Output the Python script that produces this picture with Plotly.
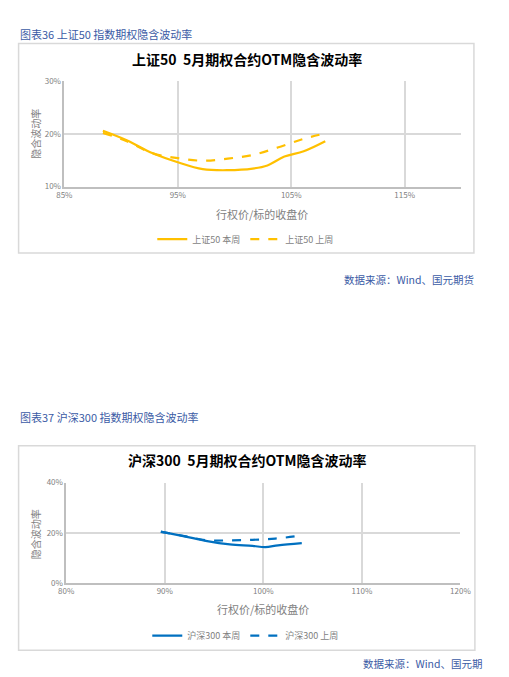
import plotly.graph_objects as go

W, H = 509, 677

# 上证50 5月期权 OTM 隐含波动率 (x: 行权价/标的收盘价 %, y: 隐含波动率 %)
sz50_x_this = [88.4, 90.5, 92.8, 95.0, 97.2, 99.4, 101.6, 102.9, 104.4, 106.1, 108.0]
sz50_y_this = [20.6, 18.8, 16.3, 14.6, 13.3, 13.1, 13.4, 14.0, 15.7, 16.7, 18.6]
sz50_x_last = [88.4, 90.5, 92.8, 95.0, 97.2, 99.4, 101.6, 103.8, 106.0, 107.8]
sz50_y_last = [20.2, 18.6, 16.3, 15.4, 14.9, 15.3, 16.0, 17.4, 19.0, 20.0]

# 沪深300 5月期权 OTM 隐含波动率
hs300_x_this = [89.6, 92.0, 94.3, 96.6, 98.9, 100.2, 101.5, 103.9]
hs300_y_this = [20.5, 18.6, 16.7, 15.4, 14.8, 14.3, 15.0, 15.9]
hs300_x_last = [89.6, 92.0, 94.3, 96.6, 98.9, 101.2, 103.5]
hs300_y_last = [20.4, 18.7, 17.0, 17.0, 17.2, 17.7, 18.7]

GOLD = '#FFC000'
BLUE = '#0070C0'
CAP = '#3B5BA5'
FONT = 'Noto Sans CJK SC'


# page pixel -> paper coordinate
def px(x):
    return x / W


def py(y):
    return 1 - y / H


fig = go.Figure()

fig.add_trace(go.Scatter(x=sz50_x_this, y=sz50_y_this, name='上证50 本周', mode='lines',
                         line=dict(color=GOLD, width=2.2, shape='spline'),
                         xaxis='x', yaxis='y', legend='legend'))
fig.add_trace(go.Scatter(x=sz50_x_last, y=sz50_y_last, name='上证50 上周', mode='lines',
                         line=dict(color=GOLD, width=2.2, dash='dash', shape='spline'),
                         xaxis='x', yaxis='y', legend='legend'))
fig.add_trace(go.Scatter(x=hs300_x_this, y=hs300_y_this, name='沪深300 本周', mode='lines',
                         line=dict(color=BLUE, width=2.2, shape='spline'),
                         xaxis='x2', yaxis='y2', legend='legend2'))
fig.add_trace(go.Scatter(x=hs300_x_last, y=hs300_y_last, name='沪深300 上周', mode='lines',
                         line=dict(color=BLUE, width=2.2, dash='dash', shape='spline'),
                         xaxis='x2', yaxis='y2', legend='legend2'))

axis_common = dict(showgrid=True, gridcolor='#D9D9D9', gridwidth=1.5,
                   showline=True, linecolor='#BFBFBF', linewidth=1.5,
                   zeroline=False, ticks='', ticksuffix='%',
                   tickfont=dict(family=FONT, size=8, color='#7F7F7F'))

fig.update_layout(
    width=W, height=H,
    margin=dict(l=0, r=0, t=0, b=0),
    paper_bgcolor='white', plot_bgcolor='white',
    font=dict(family=FONT),
    xaxis=dict(domain=[px(58.5), px(471)], range=[85, 120], tick0=85, dtick=10,
               anchor='y', **axis_common),
    yaxis=dict(domain=[py(183.5), py(76.5)], range=[10, 30], tick0=10, dtick=10,
               anchor='x', **axis_common),
    xaxis2=dict(domain=[px(60.5), px(470)], range=[80, 120], tick0=80, dtick=10,
                anchor='y2', **axis_common),
    yaxis2=dict(domain=[py(586.5), py(484.5)], range=[0, 40], tick0=0, dtick=20,
                anchor='x2', **axis_common),
    legend=dict(orientation='h', x=px(247), y=py(237), xanchor='center', yanchor='middle',
                font=dict(family=FONT, size=9, color='#7F7F7F'), bgcolor='rgba(0,0,0,0)'),
    legend2=dict(orientation='h', x=px(247), y=py(640), xanchor='center', yanchor='middle',
                 font=dict(family=FONT, size=9, color='#7F7F7F'), bgcolor='rgba(0,0,0,0)'),
)

# chart frames
for (x0, y0, x1, y1) in [(11, 38, 484, 251), (11, 447, 485, 655)]:
    fig.add_shape(type='rect', xref='paper', yref='paper',
                  x0=px(x0), x1=px(x1), y0=py(y1), y1=py(y0),
                  line=dict(color='#D9D9D9', width=1.5), fillcolor='rgba(0,0,0,0)')

texts = [
    # caption, title, x title, y title, source
    dict(text='图表36 上证50 指数期权隐含波动率', x=10, y=28, xanchor='left', size=11, color=CAP),
    dict(text='上证50  5月期权合约OTM隐含波动率', x=248, y=54, xanchor='center', size=14,
         color='black', bold=True),
    dict(text='行权价/标的收盘价', x=264, y=211, xanchor='center', size=11, color='#7F7F7F'),
    dict(text='隐含波动率', x=29, y=130, xanchor='center', size=10, color='#7F7F7F', angle=-90),
    dict(text='数据来源：Wind、国元期货', x=486, y=278, xanchor='right', size=10.5, color=CAP),
    dict(text='图表37 沪深300 指数期权隐含波动率', x=10, y=418, xanchor='left', size=11, color=CAP),
    dict(text='沪深300  5月期权合约OTM隐含波动率', x=248, y=462, xanchor='center', size=14,
         color='black', bold=True),
    dict(text='行权价/标的收盘价', x=265, y=613, xanchor='center', size=11, color='#7F7F7F'),
    dict(text='隐含波动率', x=28, y=537, xanchor='center', size=10, color='#7F7F7F', angle=-90),
    dict(text='数据来源：Wind、国元期', x=495, y=668, xanchor='right', size=10.5, color=CAP),
]
for t in texts:
    label = '<b>' + t['text'] + '</b>' if t.get('bold') else t['text']
    fig.add_annotation(text=label, xref='paper', yref='paper', x=px(t['x']), y=py(t['y']),
                       xanchor=t['xanchor'], yanchor='middle', showarrow=False,
                       textangle=t.get('angle', 0),
                       font=dict(family=FONT, size=t['size'], color=t['color']))

# drop the default body margin so the 509x677 figure fills the window exactly
fig.write_html('out.html', config={'displayModeBar': False},
               post_script="document.body.style.margin='0';"
                           "document.body.style.overflow='hidden';")
